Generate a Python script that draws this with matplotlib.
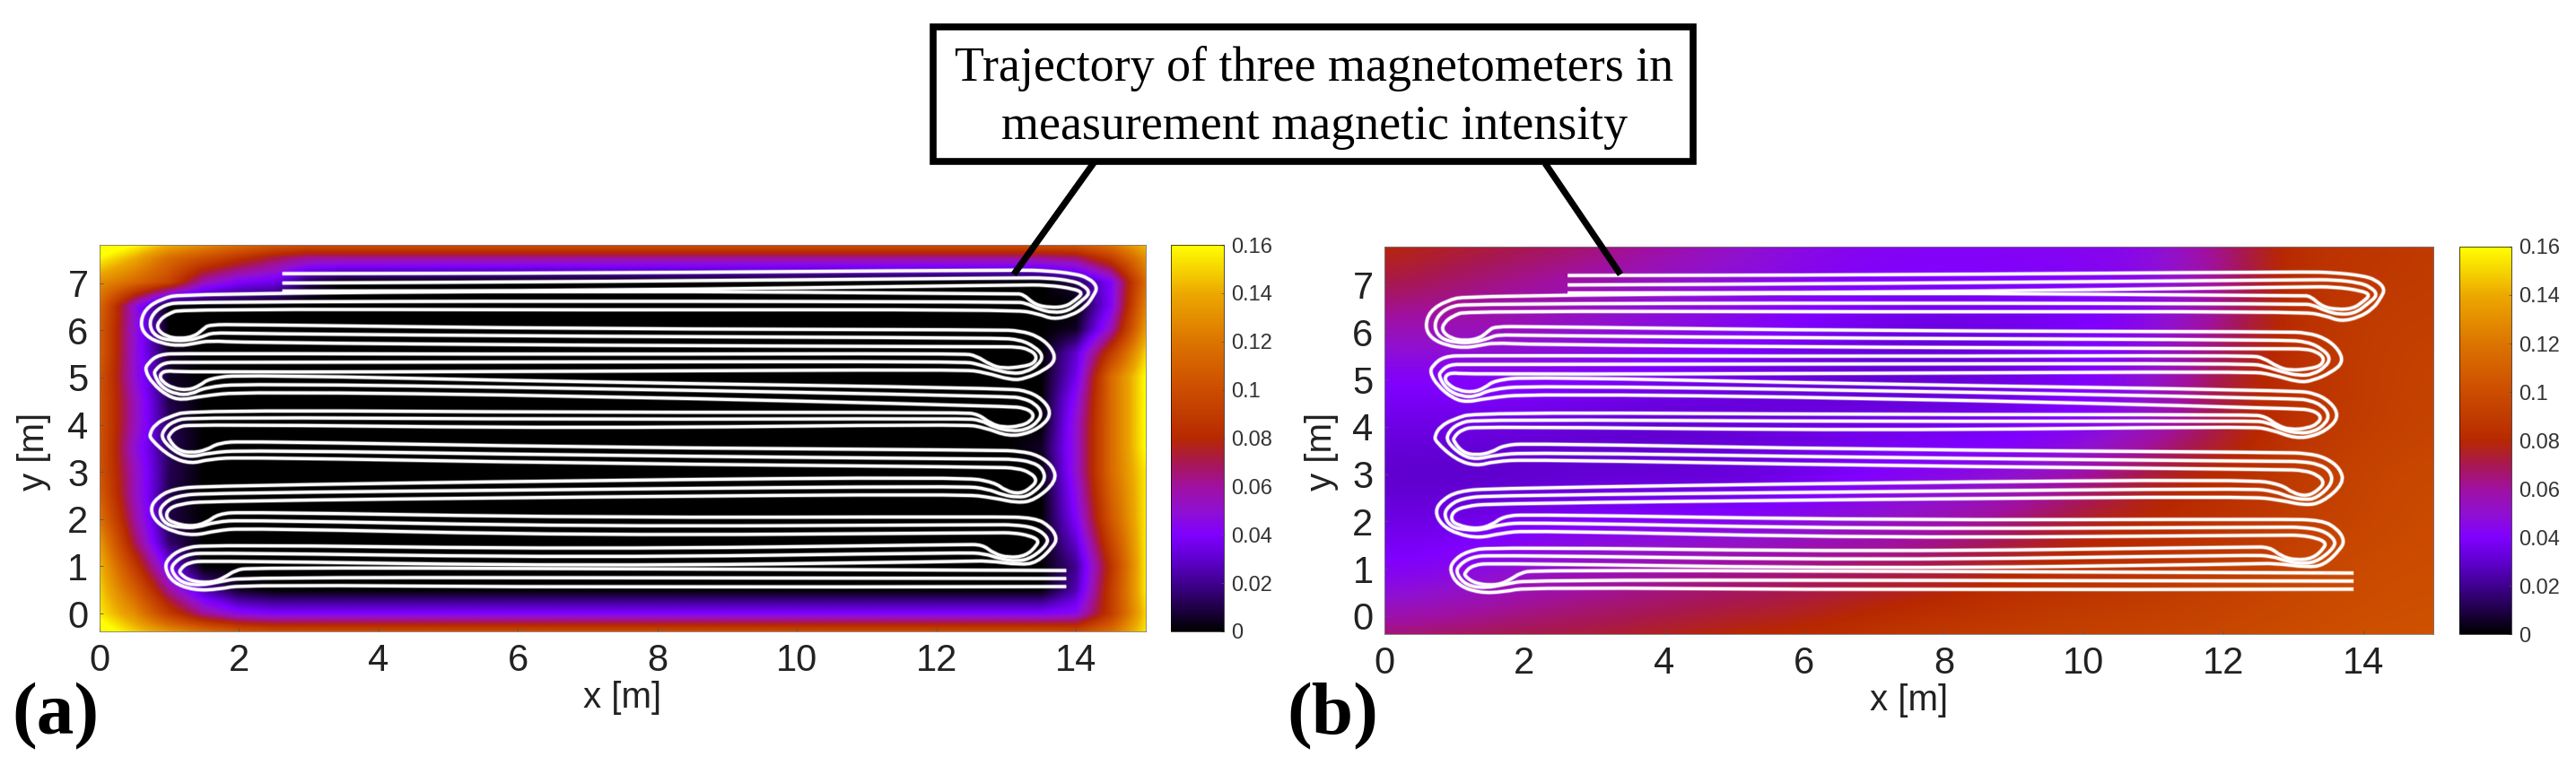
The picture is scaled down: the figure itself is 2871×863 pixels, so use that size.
import numpy as np
import matplotlib
matplotlib.use("Agg")
import matplotlib.pyplot as plt
from matplotlib.colors import LinearSegmentedColormap
from matplotlib.lines import Line2D
from matplotlib.patches import PathPatch, Rectangle
from matplotlib.path import Path

W, H = 2871, 863

# colour scale
cbar_levels = [0, .01, .02, .03, .04, .05, .06, .07, .08, .09, .10, .12, .14, .16]
cbar_colors = ['#000000', '#200048', '#400090', '#6000d0', '#8000ff', '#9010d0', '#a010a0',
               '#a81850', '#b82800', '#c03c00', '#cc4c00', '#dc7400', '#eca800', '#ffff00']
cbar_ticks = [0, .02, .04, .06, .08, .1, .12, .14, .16]
cbar_labels = ['0', '0.02', '0.04', '0.06', '0.08', '0.1', '0.12', '0.14', '0.16']

# panel (a): values in thousandths on a 0.5 m grid, y from 8.0 down to -0.5
# each row: values from the left edge, value across the middle, values up to the right edge
a_y = np.arange(8.0, -1.0, -0.5)
a_left = [[190, 175, 160, 150, 140, 135],
          [158, 140, 115, 100, 85, 70, 60],
          [130, 115, 95, 55, 40, 35, 10],
          [115, 50],
          [110, 50],
          [110, 50, 5],
          [105, 50, 5],
          [105, 55, 10],
          [105, 55, 12],
          [105, 50, 12],
          [105, 55, 12],
          [110, 55, 10],
          [120, 60, 10],
          [135, 70, 15],
          [145, 90, 35],
          [150, 110, 60, 25, 5],
          [155, 130, 90, 60, 45],
          [175, 155, 145, 135, 125]]
a_middle = [135, 60, 0, 0, 0, 0, 0, 0, 0, 0, 0, 0, 0, 0, 0, 0, 40, 120]
a_right = [[140, 155],
           [60, 65, 90, 130],
           [10, 40, 115],
           [0, 40, 125],
           [5, 55, 135],
           [30, 90, 150],
           [35, 115, 160],
           [45, 115, 160],
           [50, 115, 160],
           [5, 50, 115, 160],
           [50, 115, 155],
           [45, 110, 155],
           [40, 105, 155],
           [30, 95, 155],
           [20, 85, 155],
           [25, 90, 155],
           [45, 90, 150],
           [115, 125, 155]]

# panel (b): values on a 1 m grid, y from 8 down to -1
b_field = [
    [.082, .078, .074, .070, .062, .054, .047, .043, .043, .043, .044, .046, .066, .085, .085, .090],
    [.072, .066, .060, .055, .050, .046, .043, .040, .040, .040, .041, .045, .062, .085, .088, .090],
    [.055, .055, .055, .050, .048, .045, .040, .035, .032, .035, .038, .045, .064, .085, .090, .092],
    [.040, .040, .042, .040, .036, .032, .030, .028, .030, .035, .040, .050, .076, .085, .090, .095],
    [.035, .035, .033, .030, .030, .033, .035, .036, .036, .036, .040, .050, .072, .085, .090, .095],
    [.028, .027, .028, .030, .030, .030, .034, .040, .044, .048, .058, .078, .082, .090, .095, .098],
    [.035, .035, .037, .040, .040, .042, .045, .050, .056, .065, .078, .080, .085, .090, .095, .100],
    [.040, .042, .050, .055, .060, .063, .066, .069, .072, .080, .083, .085, .090, .095, .100, .100],
    [.055, .060, .065, .068, .070, .073, .076, .082, .085, .088, .090, .092, .095, .098, .100, .102],
    [.080, .080, .080, .080, .085, .090, .090, .092, .095, .095, .098, .100, .100, .102, .105, .105],
]

# trajectory lanes at x = 7, from the start lane to the end lane
lane_top = [.95, 1.36, 2.03, 2.82, 3.52, 4.26, 4.90, 5.49, 6.03, 6.84, 7.21]
lane_mid = [.76, 1.18, 1.84, 2.63, 3.35, 4.11, 4.77, 5.33, 5.87, 6.62, 7.03]
lane_bottom = [.55, 1.00, 1.65, 2.47, 3.18, 3.92, 4.61, 5.13, 5.68, 6.43, 6.84]
start_x, start_top, start_mid, start_bottom = 13.86, .91, .74, .57
end_x, end_top, end_mid, end_bottom = 2.62, 7.20, 7.00, 6.83

# turns at the left end, listed from upper lane to lower lane
lt1_outer = [(1.53,1.46),(1.18,1.37),(.99,1.18),(.93,.97),(1.05,.65),(1.36,.49),(1.70,.51),(2.05,.61)]
lt1_mid = [(1.53,1.29),(1.24,1.25),(1.05,1.06),(1.03,.89),(1.17,.65),(1.44,.59),(1.75,.68),(2.05,.76)]
lt1_inner = [(1.53,1.12),(1.27,1.08),(1.15,.93),(1.15,.84),(1.31,.68),(1.62,.65),(1.81,.78),(1.94,.91),(2.14,.97)]
lt2_outer = [(1.53,2.70),(1.05,2.64),(.82,2.45),(.72,2.21),(.82,1.92),(1.05,1.73),(1.36,1.65),(1.66,1.75),(2.05,1.81)]
lt2_mid = [(1.53,2.55),(1.10,2.49),(.91,2.32),(.85,2.13),(.95,1.88),(1.18,1.82),(1.40,1.82),(1.66,1.94),(2.05,1.98)]
lt2_inner = [(1.53,2.38),(1.15,2.32),(.98,2.21),(.95,2.03),(1.05,1.92),(1.31,1.84),(1.53,1.92),(1.70,2.11),(2.05,2.15)]
lt3_outer = [(1.31,4.31),(.98,4.16),(.80,4.01),(.72,3.82),(.73,3.69),(1.02,3.31),(1.31,3.17),(1.57,3.27),(2.05,3.31)]
lt3_mid = [(1.31,4.16),(1.05,4.07),(.91,3.88),(.89,3.69),(1.10,3.40),(1.31,3.31),(1.57,3.40),(2.05,3.46)]
lt3_inner = [(1.31,4.01),(1.10,3.94),(.99,3.78),(.99,3.69),(1.12,3.46),(1.31,3.40),(1.53,3.46),(1.70,3.61),(2.05,3.65)]
lt4_outer = [(1.18,5.51),(.85,5.49),(.69,5.30),(.65,5.15),(.76,4.87),(.98,4.60),(1.18,4.52),(1.44,4.60),(2.05,4.70)]
lt4_mid = [(1.18,5.32),(.93,5.32),(.80,5.17),(.78,5.06),(.89,4.79),(1.10,4.64),(1.31,4.64),(1.51,4.79),(2.05,4.87)]
lt4_inner = [(1.18,5.11),(.95,5.15),(.86,5.06),(.89,4.92),(1.05,4.77),(1.27,4.73),(1.44,4.83),(1.57,4.98),(2.05,5.06)]
lt5_outer = [(1.18,6.77),(.89,6.67),(.65,6.45),(.58,6.12),(.67,5.87),(.89,5.72),(1.15,5.67),(1.36,5.72),(1.57,5.78),(2.05,5.74)]
lt5_mid = [(1.18,6.60),(.93,6.54),(.76,6.35),(.71,6.10),(.80,5.87),(1.02,5.78),(1.27,5.78),(1.49,5.87),(1.62,5.95),(2.05,5.93)]
lt5_inner = [(1.18,6.45),(.98,6.35),(.85,6.20),(.82,6.03),(.95,5.87),(1.15,5.82),(1.36,5.87),(1.49,6.03),(1.57,6.12),(2.05,6.12)]

# turns at the right end, listed from lower lane to upper lane
rt1_outer = [(12.38,1.10),(12.73,1.12),(13.20,1.03),(13.44,1.08),(13.67,1.41),(13.73,1.60),(13.63,1.84),(13.41,2.03),(12.82,2.05)]
rt1_mid = [(12.38,1.29),(12.69,1.27),(12.90,1.16),(13.16,1.10),(13.37,1.18),(13.59,1.46),(13.59,1.63),(13.41,1.82),(13.10,1.88),(12.82,1.88)]
rt1_inner = [(12.38,1.46),(12.66,1.46),(12.82,1.27),(13.03,1.18),(13.28,1.22),(13.44,1.44),(13.46,1.56),(13.33,1.65),(13.10,1.71),(12.82,1.71)]
rt2_outer = [(12.38,2.53),(12.82,2.45),(13.16,2.34),(13.41,2.40),(13.72,2.80),(13.67,3.12),(13.46,3.35),(13.20,3.44),(12.82,3.46)]
rt2_mid = [(12.38,2.70),(12.73,2.64),(12.95,2.51),(13.16,2.46),(13.33,2.49),(13.56,2.80),(13.53,3.06),(13.37,3.21),(13.10,3.27),(12.82,3.27)]
rt2_inner = [(12.38,2.89),(12.83,2.78),(12.99,2.60),(13.20,2.53),(13.37,2.68),(13.44,2.83),(13.35,2.98),(13.16,3.08),(12.82,3.10)]
rt3_outer = [(12.38,4.01),(12.69,3.94),(13.03,3.75),(13.33,3.82),(13.56,4.03),(13.64,4.26),(13.54,4.51),(13.33,4.70),(13.03,4.77)]
rt3_mid = [(12.38,4.13),(12.63,4.10),(12.83,3.94),(13.08,3.86),(13.30,3.90),(13.46,4.07),(13.51,4.26),(13.41,4.45),(13.24,4.56),(13.03,4.60)]
rt3_inner = [(12.38,4.26),(12.60,4.22),(12.77,4.03),(12.95,3.94),(13.20,3.97),(13.35,4.07),(13.40,4.22),(13.28,4.35),(13.03,4.39)]
rt4_outer = [(12.38,5.17),(12.69,5.11),(13.08,4.94),(13.28,4.98),(13.54,5.15),(13.71,5.36),(13.65,5.63),(13.46,5.87),(13.20,5.99),(12.86,6.01)]
rt4_mid = [(12.38,5.34),(12.60,5.28),(12.82,5.17),(13.08,5.08),(13.28,5.11),(13.46,5.27),(13.53,5.46),(13.41,5.65),(13.20,5.80),(12.86,5.84)]
rt4_inner = [(12.38,5.51),(12.57,5.46),(12.77,5.27),(12.95,5.19),(13.24,5.23),(13.40,5.30),(13.44,5.46),(13.33,5.59),(13.16,5.65),(12.86,5.65)]
rt5_outer = [(13.11,6.44),(13.46,6.35),(13.67,6.23),(13.93,6.31),(14.14,6.50),(14.25,6.73),(14.31,6.92),(14.18,7.11),(13.97,7.20),(13.59,7.26),(13.16,7.28)]
rt5_mid = [(13.11,6.60),(13.28,6.58),(13.46,6.45),(13.67,6.37),(13.89,6.41),(14.06,6.60),(14.21,6.79),(14.10,6.96),(13.93,7.05),(13.59,7.11),(13.16,7.11)]
rt5_inner = [(13.11,6.77),(13.24,6.77),(13.41,6.54),(13.63,6.48),(13.85,6.50),(13.99,6.64),(14.10,6.79),(13.97,6.88),(13.59,6.96),(13.16,6.96)]

left_turns = [(lt1_outer, lt1_mid, lt1_inner), (lt2_outer, lt2_mid, lt2_inner), (lt3_outer, lt3_mid, lt3_inner),
              (lt4_outer, lt4_mid, lt4_inner), (lt5_outer, lt5_mid, lt5_inner)]
right_turns = [(rt1_outer, rt1_mid, rt1_inner), (rt2_outer, rt2_mid, rt2_inner), (rt3_outer, rt3_mid, rt3_inner),
               (rt4_outer, rt4_mid, rt4_inner), (rt5_outer, rt5_mid, rt5_inner)]


def sensor_path(s):
    # s = 0: bottom line on left-going lanes, s = 1: middle, s = 2: top line
    left_lane = [lane_bottom, lane_mid, lane_top][s]
    right_lane = [lane_top, lane_mid, lane_bottom][s]
    right_role = [2, 1, 0][s]
    pts = [(start_x, [start_bottom, start_mid, start_top][s]), (7, left_lane[0])]
    for i in range(5):
        pts += left_turns[i][s][::-1]
        pts.append((7, right_lane[2 * i + 1]))
        pts += right_turns[i][right_role]
        pts.append((7, left_lane[2 * i + 2]))
    pts.append((end_x, [end_bottom, end_mid, end_top][s]))
    return np.array(pts)


def rounded(pts):
    # read points become the control points of quadratic curves, so the turns come out round
    verts = [pts[0]]
    codes = [Path.MOVETO]
    for i in range(1, len(pts) - 1):
        verts += [pts[i], (pts[i] + pts[i + 1]) / 2]
        codes += [Path.CURVE3, Path.CURVE3]
    verts.append(pts[-1])
    codes.append(Path.LINETO)
    return Path(np.array(verts), codes)


def px_rect(x0, y0, x1, y1):
    return [x0 / W, 1 - y1 / H, (x1 - x0) / W, (y1 - y0) / H]


cmap = LinearSegmentedColormap.from_list('field', [(v / .16, c) for v, c in zip(cbar_levels, cbar_colors)], N=512)

rows = []
for left, fill, right in zip(a_left, a_middle, a_right):
    rows.append(left + [fill] * (31 - len(left) - len(right)) + right)
a_field = np.array(rows) / 1000.0
b_values = np.array(b_field)

plt.rcParams['font.family'] = ['Liberation Sans', 'DejaVu Sans']
fig = plt.figure(figsize=(W / 100, H / 100), dpi=100)

panels = [
    (px_rect(111, 273, 1277, 704), px_rect(1305, 273, 1364, 704), a_field, 'bilinear',
     [-.25, 15.25, a_y[-1] - .25, a_y[0] + .25], 38),
    (px_rect(1543, 275, 2712, 707), px_rect(2741, 275, 2799, 707), b_values, 'bicubic',
     [-.5, 15.5, -1.5, 8.5], 1473),
]

for rect, cax_rect, field, interp, extent, ylab_px in panels:
    ax = fig.add_axes(rect)
    im = ax.imshow(field, cmap=cmap, vmin=0, vmax=.16, extent=extent, aspect='auto',
                   interpolation=interp, interpolation_stage='data')
    for s in range(3):
        line = rounded(sensor_path(s))
        ax.add_patch(PathPatch(line, fill=False, edgecolor='white', alpha=.35, lw=3.6, capstyle='butt'))
        ax.add_patch(PathPatch(line, fill=False, edgecolor='white', lw=2.4, capstyle='butt'))
    ax.set_xlim(0, 15)
    ax.set_ylim(-.38, 7.81)
    ax.set_xticks(range(0, 15, 2))
    ax.set_yticks(range(0, 8))
    ax.tick_params(direction='in', length=3, width=.6, color='#555555', labelsize=30,
                   labelcolor='#222222', pad=9)
    for sp in ax.spines.values():
        sp.set_linewidth(.6)
        sp.set_color('#777777')
    ax.set_xlabel('x [m]', fontsize=29, color='#222222', labelpad=2)
    fig.text(ylab_px / W, 1 - 503 / H, 'y [m]', fontsize=29, color='#222222', rotation=90,
             ha='center', va='center')

    cax = fig.add_axes(cax_rect)
    cb = fig.colorbar(im, cax=cax, ticks=cbar_ticks)
    cb.ax.set_yticklabels(cbar_labels)
    cb.ax.tick_params(direction='in', length=2, width=.5, color='#555555', labelsize=17,
                      labelcolor='#333333', pad=6)
    cb.outline.set_linewidth(.5)

# callout lines from the box down to the trajectories
for x0, y0, x1, y1 in [(1218, 183, 1132, 303), (1724, 185, 1804, 303)]:
    fig.add_artist(Line2D([x0 / W, x1 / W], [1 - y0 / H, 1 - y1 / H], color='black', lw=5.2))

fig.add_artist(Rectangle((1040 / W, 1 - 180 / H), 847 / W, 150 / H, transform=fig.transFigure,
                         facecolor='white', edgecolor='black', lw=5.5))
serif = ['Liberation Serif', 'DejaVu Serif']
fig.text(1465 / W, 1 - 90 / H, 'Trajectory of three magnetometers in', family=serif, fontsize=38.8,
         ha='center', va='baseline', color='black')
fig.text(1465 / W, 1 - 155 / H, 'measurement magnetic intensity', family=serif, fontsize=38.8,
         ha='center', va='baseline', color='black')

fig.text(62 / W, 1 - 818 / H, '(a)', family=serif, fontsize=60, fontweight='bold', ha='center', va='baseline')
fig.text(1485 / W, 1 - 818 / H, '(b)', family=serif, fontsize=60, fontweight='bold', ha='center', va='baseline')

fig.savefig('out.png', dpi=100)
